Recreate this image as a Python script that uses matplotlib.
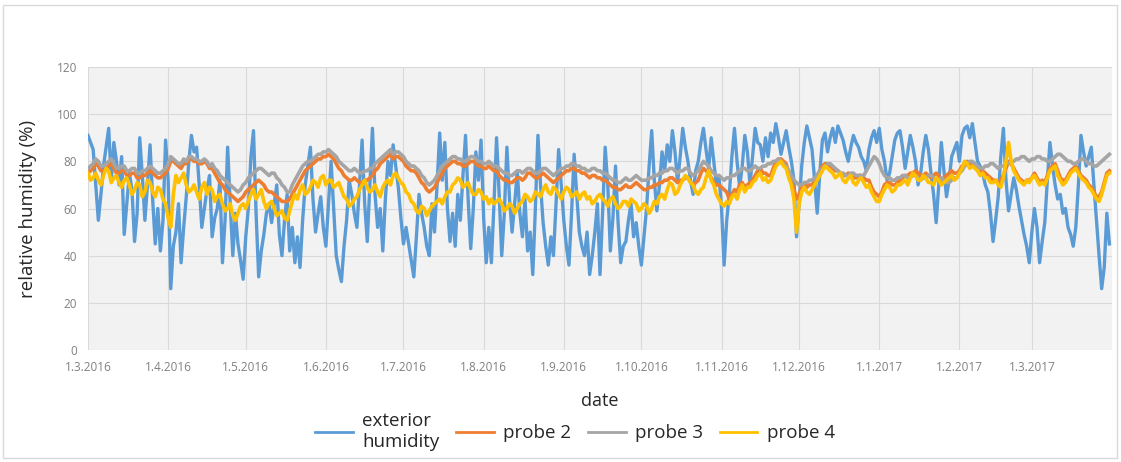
import numpy as np
import pandas as pd
import matplotlib
matplotlib.use("Agg")
import matplotlib.pyplot as plt
from matplotlib.patches import Rectangle

plt.rcParams['font.family'] = ['Open Sans', 'DejaVu Sans']

# ---------------- data (one value per day, 1.3.2016 - 31.3.2017) ----------------
start_date = '2016-03-01'

exterior = (
    [91, 88, 85, 70, 55, 66, 78, 86, 94, 72, 88, 80, 70, 82, 49, 62, 75, 68, 46, 58,
     90, 74, 55, 70, 87, 64, 45, 60, 42, 55, 89, 72] +
    [26, 44, 50, 62, 37, 52, 65, 80, 91, 84, 86, 70, 52, 60, 68, 74, 48, 56, 60, 72,
     37, 55, 86, 62, 40, 58, 45, 38, 30, 48] +
    [60, 82, 93, 58, 31, 42, 49, 58, 62, 54, 62, 70, 49, 40, 55, 66, 42, 52, 37, 48,
     35, 55, 70, 78, 86, 64, 50, 58, 65, 52, 44, 62] +
    [80, 60, 40, 34, 29, 44, 55, 72, 66, 58, 52, 70, 89, 62, 46, 70, 94, 66, 52, 60,
     42, 64, 80, 74, 87, 78, 69, 56, 45, 52] +
    [45, 38, 31, 48, 66, 58, 52, 44, 40, 62, 50, 70, 92, 72, 88, 60, 46, 58, 44, 66,
     55, 74, 91, 64, 43, 60, 84, 72, 89, 56, 37, 52] +
    [37, 62, 90, 66, 40, 58, 86, 64, 50, 62, 76, 58, 48, 64, 42, 50, 32, 60, 91, 70,
     54, 44, 36, 48, 40, 62, 85, 70, 55, 44] +
    [36, 58, 83, 66, 50, 44, 40, 50, 32, 40, 50, 62, 32, 58, 86, 70, 42, 56, 78, 54,
     37, 44, 46, 55, 62, 48, 54, 44, 36, 48] +
    [60, 78, 93, 72, 59, 70, 84, 76, 87, 80, 93, 84, 71, 82, 94, 86, 80, 72, 66, 76,
     80, 88, 94, 85, 77, 90, 80, 70, 74, 60, 36, 55] +
    [66, 82, 94, 80, 69, 78, 91, 84, 70, 82, 94, 88, 87, 80, 90, 82, 92, 88, 96, 90,
     83, 88, 93, 86, 80, 72, 48, 62, 78, 88] +
    [95, 90, 85, 72, 58, 75, 89, 92, 84, 90, 94, 88, 95, 92, 89, 84, 80, 86, 91, 88,
     86, 82, 80, 76, 85, 90, 93, 88, 94, 85, 80, 72] +
    [75, 82, 89, 92, 93, 86, 77, 84, 91, 86, 80, 70, 75, 84, 91, 85, 75, 66, 54, 70,
     88, 76, 65, 72, 82, 85, 88, 80, 91, 94, 95, 90] +
    [96, 88, 80, 78, 75, 70, 67, 58, 46, 55, 65, 82, 94, 72, 59, 66, 73, 68, 61, 55,
     49, 44, 37, 50, 60, 52, 37, 46] +
    [54, 72, 88, 78, 70, 64, 66, 58, 60, 52, 49, 44, 52, 70, 91, 84, 78, 82, 86, 70,
     55, 40, 26, 35, 58, 45]
)

probe2 = (
    [75, 76, 77, 79, 78, 76, 76, 77, 78, 79, 77, 75, 75, 76, 76, 74, 74, 75, 75, 73,
     73, 74, 74, 75, 76, 75, 74, 73, 73, 74, 75, 77] +
    [80, 80, 79, 78, 77, 79, 79, 81, 81, 80, 80, 79, 79, 80, 79, 77, 77, 75, 73, 71,
     70, 68, 67, 66, 65, 64, 63, 64, 65, 67] +
    [68, 69, 70, 71, 72, 71, 70, 68, 67, 67, 66, 65, 64, 63, 63, 63, 64, 66, 68, 70,
     72, 74, 76, 77, 78, 79, 80, 81, 81, 82, 82, 83] +
    [82, 81, 79, 77, 76, 74, 73, 72, 72, 73, 72, 71, 71, 72, 72, 73, 74, 76, 77, 79,
     80, 81, 82, 83, 81, 82, 82, 81, 80, 78] +
    [77, 76, 76, 75, 73, 71, 70, 68, 67, 68, 69, 71, 73, 75, 77, 78, 79, 80, 80, 79,
     79, 78, 78, 79, 80, 80, 79, 78, 78, 77, 77, 78] +
    [77, 76, 76, 74, 73, 72, 72, 71, 71, 72, 73, 73, 72, 73, 75, 75, 74, 73, 73, 74,
     75, 74, 73, 72, 71, 72, 73, 74, 75, 76] +
    [76, 77, 77, 76, 76, 75, 75, 74, 73, 74, 74, 73, 73, 72, 72, 71, 70, 69, 69, 68,
     68, 69, 70, 69, 69, 70, 71, 70, 69, 68] +
    [68, 69, 69, 70, 70, 71, 71, 72, 72, 73, 73, 72, 71, 72, 72, 73, 73, 71, 70, 71,
     72, 75, 77, 76, 75, 73, 71, 70, 70, 69, 68, 67] +
    [64, 66, 68, 67, 70, 71, 69, 70, 71, 72, 74, 76, 77, 75, 75, 74, 74, 77, 80, 81,
     81, 80, 79, 75, 72, 68, 64, 66, 69, 71] +
    [69, 70, 70, 72, 74, 76, 78, 79, 79, 78, 77, 76, 76, 75, 74, 74, 75, 74, 73, 73,
     74, 74, 73, 72, 72, 69, 67, 66, 65, 67, 70, 71] +
    [71, 70, 70, 71, 72, 73, 74, 74, 75, 75, 76, 75, 74, 74, 75, 74, 73, 74, 75, 74,
     72, 73, 74, 75, 76, 75, 75, 76, 78, 79, 80, 79] +
    [79, 78, 77, 76, 76, 75, 74, 73, 72, 72, 71, 72, 74, 77, 80, 79, 77, 75, 73, 72,
     71, 72, 72, 73, 75, 73, 71, 72] +
    [71, 74, 77, 78, 79, 76, 73, 72, 72, 74, 76, 77, 78, 76, 74, 73, 72, 70, 69, 67,
     65, 65, 67, 71, 75, 76]
)

probe3 = (
    [77, 78, 79, 81, 80, 78, 78, 79, 80, 81, 79, 77, 77, 78, 78, 76, 76, 77, 77, 75,
     75, 76, 76, 77, 78, 77, 76, 75, 75, 76, 77, 79] +
    [82, 81, 80, 79, 79, 81, 80, 82, 82, 81, 81, 80, 80, 81, 80, 78, 79, 77, 76, 74,
     73, 72, 71, 70, 69, 68, 67, 68, 70, 71] +
    [73, 74, 75, 76, 77, 77, 76, 75, 74, 75, 75, 73, 72, 70, 69, 67, 67, 70, 72, 74,
     76, 78, 79, 80, 80, 81, 82, 83, 83, 84, 84, 85] +
    [84, 83, 82, 80, 79, 78, 77, 76, 76, 77, 76, 75, 75, 76, 76, 77, 77, 79, 80, 81,
     82, 83, 84, 85, 83, 84, 84, 83, 82, 80] +
    [79, 78, 78, 77, 76, 74, 73, 71, 70, 71, 72, 74, 76, 78, 79, 80, 81, 82, 82, 81,
     81, 80, 80, 81, 82, 82, 81, 80, 80, 79, 79, 80] +
    [79, 78, 78, 77, 76, 75, 75, 74, 74, 75, 76, 76, 75, 76, 77, 77, 76, 75, 75, 76,
     77, 77, 76, 75, 74, 75, 76, 77, 77, 78] +
    [78, 79, 79, 78, 78, 77, 77, 76, 76, 77, 77, 76, 76, 75, 75, 74, 73, 72, 72, 71,
     71, 72, 73, 72, 72, 73, 74, 73, 72, 72] +
    [72, 73, 73, 74, 74, 75, 75, 76, 76, 77, 77, 76, 75, 76, 76, 77, 77, 75, 74, 75,
     76, 78, 80, 79, 78, 76, 75, 74, 74, 73, 72, 73] +
    [73, 74, 74, 75, 76, 77, 77, 76, 76, 77, 78, 77, 77, 78, 78, 79, 79, 80, 80, 81,
     80, 79, 78, 76, 74, 72, 71, 70, 70, 71] +
    [71, 72, 72, 73, 74, 76, 77, 78, 79, 79, 78, 77, 76, 75, 75, 74, 74, 75, 75, 74,
     74, 74, 74, 76, 78, 80, 82, 81, 79, 76, 74, 73] +
    [73, 72, 72, 73, 73, 74, 74, 73, 73, 74, 74, 73, 72, 73, 73, 74, 74, 73, 72, 72,
     73, 72, 71, 71, 72, 73, 73, 75, 76, 78, 79, 80] +
    [80, 79, 78, 77, 77, 78, 78, 79, 79, 78, 77, 78, 78, 79, 79, 80, 80, 81, 81, 82,
     82, 81, 80, 81, 81, 82, 82, 81] +
    [81, 80, 80, 81, 82, 83, 83, 82, 81, 80, 80, 79, 79, 80, 81, 81, 80, 79, 79, 78,
     78, 79, 80, 81, 82, 83]
)

probe4 = (
    [75, 72, 73, 75, 72, 70, 74, 77, 76, 71, 73, 74, 71, 69, 72, 73, 70, 66, 68, 71,
     70, 65, 67, 72, 71, 67, 65, 69, 68, 64, 62, 56] +
    [52, 66, 74, 71, 73, 75, 70, 67, 68, 70, 67, 64, 69, 71, 66, 69, 68, 63, 65, 66,
     62, 59, 60, 62, 57, 55, 58, 61, 62, 60] +
    [63, 66, 68, 64, 66, 68, 63, 60, 62, 63, 60, 57, 58, 59, 56, 55, 59, 63, 66, 64,
     68, 70, 66, 67, 69, 72, 71, 69, 73, 74, 70, 72] +
    [72, 69, 70, 71, 68, 65, 64, 61, 62, 64, 65, 68, 70, 72, 69, 67, 68, 70, 67, 65,
     69, 71, 72, 70, 74, 75, 73, 71, 70, 67] +
    [66, 63, 62, 59, 58, 61, 60, 57, 59, 61, 62, 63, 64, 62, 65, 67, 67, 70, 71, 73,
     72, 69, 70, 71, 68, 66, 66, 68, 67, 64, 65, 62] +
    [64, 62, 63, 64, 62, 59, 60, 62, 61, 58, 60, 62, 63, 66, 65, 63, 64, 67, 66, 65,
     68, 70, 67, 66, 69, 68, 66, 64, 67, 69] +
    [68, 65, 66, 67, 64, 66, 67, 64, 65, 62, 63, 65, 66, 64, 63, 61, 64, 65, 62, 60,
     61, 63, 63, 61, 64, 63, 62, 59, 60, 62] +
    [61, 58, 60, 63, 62, 65, 66, 64, 68, 71, 70, 66, 67, 70, 72, 74, 73, 71, 70, 67,
     66, 68, 69, 73, 76, 72, 70, 66, 64, 62, 61, 63] +
    [62, 65, 66, 64, 68, 70, 67, 69, 69, 71, 72, 74, 75, 72, 73, 71, 72, 75, 78, 79,
     80, 78, 77, 73, 70, 64, 50, 62, 67, 69] +
    [67, 66, 68, 70, 72, 74, 76, 78, 77, 76, 75, 73, 74, 75, 72, 71, 73, 74, 71, 70,
     72, 73, 71, 69, 70, 67, 65, 63, 63, 66, 68, 70] +
    [69, 67, 68, 70, 70, 71, 72, 70, 73, 75, 74, 72, 72, 74, 73, 71, 71, 70, 73, 72,
     70, 71, 72, 73, 74, 72, 73, 75, 77, 80, 79, 77] +
    [78, 77, 76, 74, 75, 73, 73, 71, 71, 72, 70, 69, 73, 80, 88, 80, 76, 74, 72, 71,
     70, 72, 71, 73, 74, 72, 70, 71] +
    [70, 73, 76, 77, 78, 74, 72, 70, 71, 73, 75, 76, 77, 75, 73, 72, 71, 69, 68, 66,
     64, 63, 66, 70, 74, 75]
)

series_names = ['exterior\nhumidity', 'probe 2', 'probe 3', 'probe 4']
series_colors = ['#5B9BD5', '#ED7D31', '#A5A5A5', '#FFC000']

tick_dates = ['2016-03-01', '2016-04-01', '2016-05-01', '2016-06-01', '2016-07-01',
              '2016-08-01', '2016-09-01', '2016-10-01', '2016-11-01', '2016-12-01',
              '2017-01-01', '2017-02-01', '2017-03-01']
tick_labels = ['1.3.2016', '1.4.2016', '1.5.2016', '1.6.2016', '1.7.2016',
               '1.8.2016', '1.9.2016', '1.10.2016', '1.11.2016', '1.12.2016',
               '1.1.2017', '1.2.2017', '1.3.2017']
x_end = '2017-04-01'
y_ticks = [0, 20, 40, 60, 80, 100, 120]

# ---------------- figure ----------------
W, H = 1121, 462
fig = plt.figure(figsize=(W / 100, H / 100), dpi=100)
fig.patch.set_facecolor('white')

# chart-area border
fig.patches.append(Rectangle((3 / W, 4 / H), 1114 / W, 453 / H, transform=fig.transFigure,
                             fill=False, edgecolor='#d9d9d9', linewidth=1.0))

ax = fig.add_axes([88 / W, 1 - 350 / H, (1112 - 88) / W, (350 - 67) / H])
ax.set_facecolor('#f2f2f2')

dates = pd.date_range(start_date, periods=len(exterior), freq='D')
all_series = [exterior, probe2, probe3, probe4]
widths = [2.4, 2.6, 2.6, 2.6]
for vals, name, col, lw in zip(all_series, series_names, series_colors, widths):
    ax.plot(dates, vals, color=col, lw=lw, label=name, solid_joinstyle='round')

ax.set_xlim(pd.Timestamp(start_date), pd.Timestamp(x_end))
ax.set_ylim(0, 120)
ax.set_yticks(y_ticks)
ax.set_xticks(pd.to_datetime(tick_dates))
ax.set_xticklabels(tick_labels)
ax.grid(True, color='#d9d9d9', linewidth=0.8)
ax.set_axisbelow(True)
for s in ax.spines.values():
    s.set_visible(False)
ax.tick_params(length=0, labelsize=8.5, colors='#808080', pad=8)

ax.set_ylabel('relative humidity (%)', fontsize=13.5, color='#262626', labelpad=14)
ax.set_xlabel('date', fontsize=13, color='#262626', labelpad=13)

leg = fig.legend(loc='lower center', bbox_to_anchor=(0.513, -0.012), ncol=4, frameon=False,
                 fontsize=13.5, handlelength=2.0, handletextpad=0.5, columnspacing=0.9,
                 labelcolor='#262626')
for h in leg.legend_handles:
    h.set_linewidth(2.0)

fig.savefig('out.png', dpi=100, facecolor='white')
